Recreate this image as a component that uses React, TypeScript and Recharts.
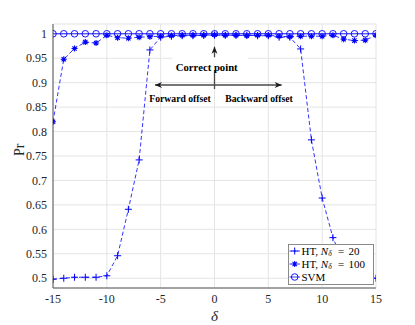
import React from 'react';
import {
  LineChart, Line, XAxis, YAxis, CartesianGrid, Legend,
  ReferenceLine, ReferenceDot, ReferenceArea,
} from 'recharts';

const DELTA = [-15, -14, -13, -12, -11, -10, -9, -8, -7, -6, -5, -4, -3, -2, -1, 0, 1, 2, 3, 4, 5, 6, 7, 8, 9, 10, 11, 12, 13, 14, 15];
const HT20 = [0.498, 0.5, 0.502, 0.502, 0.502, 0.505, 0.546, 0.641, 0.742, 0.967, 0.993, 0.995, 0.996, 0.996, 0.997, 0.997, 0.997, 0.997, 0.997, 0.996, 0.996, 0.993, 0.993, 0.969, 0.783, 0.664, 0.583, 0.53, 0.505, 0.5, 0.5];
const HT100 = [0.82, 0.948, 0.97, 0.983, 0.981, 0.997, 0.992, 0.991, 0.993, 0.994, 0.995, 0.996, 0.997, 0.997, 0.997, 0.998, 0.997, 0.997, 0.996, 0.997, 0.997, 0.995, 0.994, 0.995, 0.995, 0.995, 0.997, 0.989, 0.986, 0.987, 0.997];
const SVM = [1, 1, 1, 1, 1, 1, 1, 1, 1, 1, 1, 1, 1, 1, 1, 1, 1, 1, 1, 1, 1, 1, 1, 1, 1, 1, 1, 1, 1, 1, 1];
const X_TICKS = [-15, -10, -5, 0, 5, 10, 15];
const Y_TICKS = [0.5, 0.55, 0.6, 0.65, 0.7, 0.75, 0.8, 0.85, 0.9, 0.95, 1];
const SERIES_NAMES = ['HT', 'HT', 'SVM'];
const SERIES_N = ['20', '100', ''];

const data = DELTA.map((d, i) => ({ delta: d, ht20: HT20[i], ht100: HT100[i], svm: SVM[i] }));

const BLUE = '#0000ff';
const FONT = "'Liberation Serif', 'Times New Roman', Times, serif";
const AXIS = '#262626';

const plusPath = (cx: number, cy: number, s = 3.5) =>
  `M${cx - s},${cy}H${cx + s}M${cx},${cy - s}V${cy + s}`;
const starPath = (cx: number, cy: number, s = 3) => {
  const d = s * 0.72;
  return `${plusPath(cx, cy, s)}M${cx - d},${cy - d}L${cx + d},${cy + d}M${cx - d},${cy + d}L${cx + d},${cy - d}`;
};

const PlusDot = (p: any) =>
  p.cx == null ? <g key={`pe${p.index}`} /> : (
    <path key={`p${p.index}`} d={plusPath(p.cx, p.cy)} stroke={BLUE} strokeWidth={1} fill="none" />
  );
const StarDot = (p: any) =>
  p.cx == null ? <g key={`se${p.index}`} /> : (
    <path key={`s${p.index}`} d={starPath(p.cx, p.cy)} stroke={BLUE} strokeWidth={1.1} fill="none" />
  );
const CircleDot = (p: any) =>
  p.cx == null ? <g key={`ce${p.index}`} /> : (
    <circle key={`c${p.index}`} cx={p.cx} cy={p.cy} r={3.3} stroke={BLUE} strokeWidth={0.9} fill="none" />
  );

const head = (tx: number, ty: number, ux: number, uy: number, key: string) => {
  const L = 7, W = 3, N = 2;
  const nx = -uy, ny = ux;
  const pts = [
    [tx, ty],
    [tx - L * ux + W * nx, ty - L * uy + W * ny],
    [tx - (L - N) * ux, ty - (L - N) * uy],
    [tx - L * ux - W * nx, ty - L * uy - W * ny],
  ].map((q) => q.join(',')).join(' ');
  return <polygon key={key} points={pts} fill="#1a1a1a" />;
};

const arrowShape = (startHead: boolean, endHead: boolean) => (p: any) => {
  const x1 = p.x1, y1 = p.y1, x2 = p.x2, y2 = p.y2;
  if (x1 == null) return <g />;
  const len = Math.hypot(x2 - x1, y2 - y1) || 1;
  const ux = (x2 - x1) / len, uy = (y2 - y1) / len;
  return (
    <g>
      <line x1={x1} y1={y1} x2={x2} y2={y2} stroke="#4a4a4a" strokeWidth={1.3} />
      {startHead && head(x1, y1, -ux, -uy, 'a')}
      {endHead && head(x2, y2, ux, uy, 'b')}
    </g>
  );
};

const textShape = (label: string, size: number) => (p: any) => (
  <text x={p.cx} y={p.cy} textAnchor="middle" dominantBaseline="central"
    fontFamily={FONT} fontWeight="bold" fontSize={size} fill="#000">{label}</text>
);

const markers = [
  (x: number, y: number) => <path d={plusPath(x, y)} stroke={BLUE} strokeWidth={1} fill="none" />,
  (x: number, y: number) => <path d={starPath(x, y)} stroke={BLUE} strokeWidth={1.1} fill="none" />,
  (x: number, y: number) => <circle cx={x} cy={y} r={3.3} stroke={BLUE} strokeWidth={0.9} fill="none" />,
];

const LegendBox = () => {
  const rows = [7, 20, 33];
  return (
    <svg width={86} height={41} style={{ display: 'block' }}>
      <rect x={0.5} y={0.5} width={85} height={40} fill="#fff" stroke="#8a8a8a" strokeWidth={1} />
      {rows.map((ry, i) => (
        <g key={i}>
          <line x1={1.5} y1={ry} x2={12} y2={ry} stroke={BLUE} strokeWidth={0.8}
            strokeDasharray={i < 2 ? '2.5 1.5' : undefined} />
          {markers[i](6.7, ry)}
          <text x={13.5} y={ry} dominantBaseline="central" fontFamily={FONT} fontSize={11} fill="#000">
            {SERIES_N[i] ? (
              <>
                <tspan>{SERIES_NAMES[i]}, </tspan>
                <tspan fontStyle="italic">N</tspan>
                <tspan fontStyle="italic" fontSize={7.5} dy={2}>δ</tspan>
                <tspan dy={-2} x={50}>=</tspan>
                <tspan x={60.5}>{SERIES_N[i]}</tspan>
              </>
            ) : SERIES_NAMES[i]}
          </text>
        </g>
      ))}
    </svg>
  );
};

export default function App() {
  const tickStyle = { fontSize: 12, fill: AXIS, fontFamily: FONT };
  return (
    <div style={{ position: 'absolute', left: 0, top: 0, width: 415, height: 325, background: '#fff' }}>
      <LineChart width={415} height={325} data={data} margin={{ top: 24, right: 39, bottom: 0, left: 0 }}>
        <CartesianGrid stroke="#e4e4e4" strokeWidth={1} />
        <XAxis dataKey="delta" type="number" domain={[-15, 15]} ticks={X_TICKS} allowDataOverflow
          tickLine={false} tickSize={4} tickMargin={2} height={37}
          axisLine={{ stroke: '#555', strokeWidth: 1 }} tick={tickStyle}
          label={{ value: 'δ', position: 'insideBottom', offset: 4, fontSize: 15, fontStyle: 'italic', fill: AXIS, fontFamily: FONT }} />
        <XAxis xAxisId="mb" dataKey="delta" type="number" domain={[-15, 15]} ticks={X_TICKS} allowDataOverflow
          orientation="bottom" mirror tick={false} tickSize={3} axisLine={false}
          tickLine={{ stroke: AXIS, strokeWidth: 0.8 }} height={0} />
        <XAxis xAxisId="mt" dataKey="delta" type="number" domain={[-15, 15]} ticks={X_TICKS} allowDataOverflow
          orientation="top" mirror tick={false} tickSize={3}
          axisLine={{ stroke: '#555', strokeWidth: 1 }} tickLine={{ stroke: AXIS, strokeWidth: 0.8 }} height={0} />
        <YAxis type="number" domain={[0.48, 1.02]} ticks={Y_TICKS} allowDataOverflow width={53}
          tickLine={false} tickSize={4} tickMargin={2}
          axisLine={{ stroke: '#555', strokeWidth: 1 }} tick={tickStyle}
          tickFormatter={(v: number) => String(parseFloat(v.toFixed(2)))}
          label={{ value: 'Pr', angle: -90, position: 'insideLeft', offset: 19, fontSize: 14, fill: AXIS, fontFamily: FONT }} />
        <YAxis yAxisId="ml" type="number" domain={[0.48, 1.02]} ticks={Y_TICKS} allowDataOverflow
          orientation="left" mirror tick={false} tickSize={3} axisLine={false}
          tickLine={{ stroke: AXIS, strokeWidth: 0.8 }} width={0} />
        <YAxis yAxisId="mr" type="number" domain={[0.48, 1.02]} ticks={Y_TICKS} allowDataOverflow
          orientation="right" mirror tick={false} tickSize={3}
          axisLine={{ stroke: '#555', strokeWidth: 1 }} tickLine={{ stroke: AXIS, strokeWidth: 0.8 }} width={0} />

        <ReferenceArea x1={-3.95} x2={3.11} y1={0.926} y2={0.952} fill="#fff" fillOpacity={1} stroke="none" />

        <Line dataKey="ht20" type="linear" stroke={BLUE} strokeWidth={0.8} strokeDasharray="4 2.5"
          dot={PlusDot} activeDot={false} isAnimationActive={false} />
        <Line dataKey="ht100" type="linear" stroke={BLUE} strokeWidth={0.8} strokeDasharray="4 2.5"
          dot={StarDot} activeDot={false} isAnimationActive={false} />
        <Line dataKey="svm" type="linear" stroke={BLUE} strokeWidth={0.9}
          dot={CircleDot} activeDot={false} isAnimationActive={false} />

        <ReferenceLine segment={[{ x: -5.53, y: 0.8952 }, { x: 6.24, y: 0.8952 }]} shape={arrowShape(true, true)} />
        <ReferenceLine segment={[{ x: 0, y: 0.887 }, { x: 0, y: 0.926 }]} shape={arrowShape(false, false)} />
        <ReferenceLine segment={[{ x: 0, y: 0.952 }, { x: 0, y: 0.9736 }]} shape={arrowShape(false, true)} />

        <ReferenceDot x={-0.72} y={0.9327} r={1} shape={textShape('Correct point', 10.7)} />
        <ReferenceDot x={-3.2} y={0.8686} r={1} shape={textShape('Forward offset', 9.7)} />
        <ReferenceDot x={4.13} y={0.8686} r={1} shape={textShape('Backward offset', 9.7)} />

        <Legend layout="horizontal" verticalAlign="middle" align="center" content={LegendBox}
          wrapperStyle={{ position: 'absolute', left: 288, top: 244, width: 86, height: 41 }} />
      </LineChart>
    </div>
  );
}
